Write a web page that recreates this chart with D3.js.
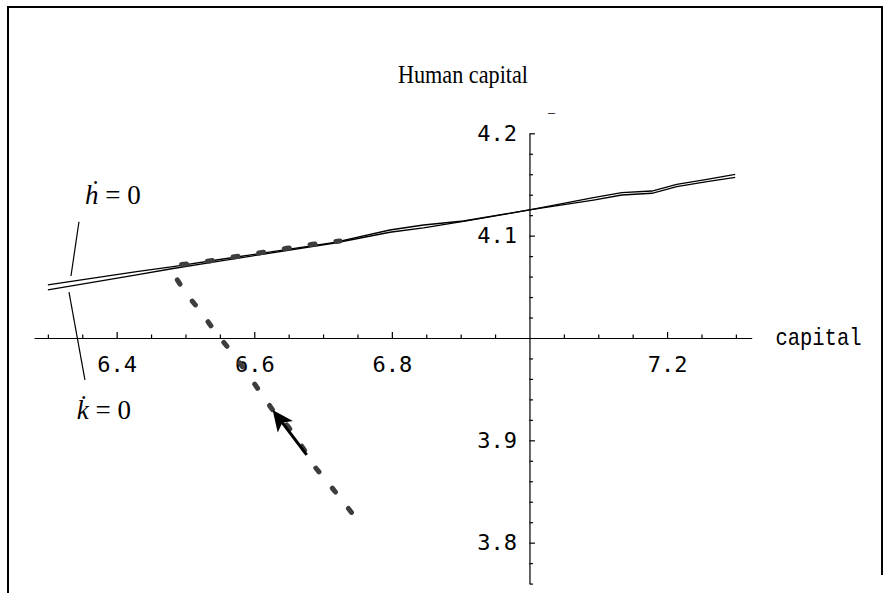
<!DOCTYPE html>
<html>
<head>
<meta charset="utf-8">
<script src="https://cdn.jsdelivr.net/npm/d3@7"></script>
<style>
  html, body { margin: 0; padding: 0; background: #ffffff; }
  svg { display: block; }
</style>
</head>
<body>
<svg id="chart" width="891" height="593"></svg>
<script>
// ---------------- data ----------------
const title = "Human capital";
const xAxisLabel = "capital";

const xMajorTicks = [6.4, 6.6, 6.8, 7.2];
const xMinorTicks = [6.3, 6.35, 6.45, 6.5, 6.55, 6.65, 6.7, 6.75, 6.85, 6.9, 6.95, 7.05, 7.1, 7.15, 7.25, 7.3];
const yMajorTicks = [3.8, 3.9, 4.1, 4.2];
const yMinorTicks = [3.76, 3.78, 3.82, 3.84, 3.86, 3.88, 3.92, 3.94, 3.96, 3.98, 4.02, 4.04, 4.06, 4.08, 4.12, 4.14, 4.16, 4.18];

// nullclines: shared capital grid, human capital values
const curveX  = [6.300, 6.429, 6.482, 6.545, 6.717, 6.797, 6.846, 6.904, 7.000, 7.093, 7.134, 7.178, 7.214, 7.258, 7.299];
const hDotY   = [4.0518, 4.0648, 4.0697, 4.0762, 4.0935, 4.1055, 4.1104, 4.1143, 4.1251, 4.1371, 4.1420, 4.1436, 4.1502, 4.1550, 4.1599];
const kDotY   = [4.0469, 4.0616, 4.0679, 4.0747, 4.0928, 4.1033, 4.1075, 4.1140, 4.1251, 4.1348, 4.1397, 4.1414, 4.1478, 4.1527, 4.1570];

// transition path (dashed)
const pathX = [6.7413, 6.7366, 6.7125, 6.6897, 6.6712, 6.6494, 6.6267, 6.6058, 6.5865, 6.5647, 6.5429, 6.5235, 6.5007, 6.4870, 6.4840, 6.4870, 6.5105, 6.5439, 6.5807, 6.6131, 6.6471, 6.6843, 6.7246];
const pathY = [3.8295, 3.8336, 3.8541, 3.8727, 3.8922, 3.9133, 3.9297, 3.9499, 3.9687, 3.9883, 4.0062, 4.0247, 4.0437, 4.0580, 4.0690, 4.0712, 4.0730, 4.0762, 4.0804, 4.0837, 4.0876, 4.0915, 4.0948];

// direction arrow (from, to)
const arrowX = [6.6762, 6.6267];
const arrowY = [3.8857, 3.9297];

// labels with leader lines
const labels = [
  {text: "\u1E23 = 0", x: 6.3539, y: 4.1309, lineX: [6.3452, 6.3336], lineY: [4.1136, 4.0606]},
  {text: "k\u0307 = 0", x: 6.3419, y: 3.9206, lineX: [6.3307, 6.3539], lineY: [4.0449, 3.9590]}
];

// ---------------- layout ----------------
const W = 891, H = 593;
const margin = {top: 133.3, right: 891 - 751.7, bottom: 593 - 583.6, left: 34.1};
const svg = d3.select("#chart");

const x = d3.scaleLinear().domain([6.28, 7.323]).range([margin.left, W - margin.right]);
const y = d3.scaleLinear().domain([3.76, 4.2]).range([H - margin.bottom, margin.top]);

// frame
svg.append("path")
  .attr("d", "M8,593V7H882V575")
  .attr("fill", "none").attr("stroke", "#000").attr("stroke-width", 2);

// title
svg.append("text")
  .attr("x", 463).attr("y", 83)
  .attr("text-anchor", "middle")
  .attr("font-family", "'Liberation Serif', 'Times New Roman', serif")
  .attr("font-size", 25)
  .attr("textLength", 130).attr("lengthAdjust", "spacingAndGlyphs")
  .attr("fill", "#000")
  .text(title);

// small mark above the y axis
svg.append("text")
  .attr("x", x(7.0) + 22).attr("y", y(4.2) - 16)
  .attr("text-anchor", "middle")
  .attr("font-family", "'Liberation Serif', serif")
  .attr("font-size", 14)
  .attr("fill", "#000")
  .text("\u2013");

const y0 = y(4.0), x0 = x(7.0);

// x axis (major with labels)
const xAxisG = svg.append("g").attr("transform", `translate(0,${y0})`)
  .call(d3.axisBottom(x).tickValues(xMajorTicks).tickSizeInner(-6).tickSizeOuter(0).tickPadding(18).tickFormat(d3.format(".1f")));
svg.append("g").attr("transform", `translate(0,${y0})`)
  .call(d3.axisBottom(x).tickValues(xMinorTicks).tickSizeInner(-3.5).tickSizeOuter(0).tickFormat(""))
  .call(g => g.select(".domain").remove());

// y axis
const yAxisG = svg.append("g").attr("transform", `translate(${x0},0)`)
  .call(d3.axisLeft(y).tickValues(yMajorTicks).tickSizeInner(-5.5).tickSizeOuter(0).tickPadding(12.5).tickFormat(d3.format(".1f")));
svg.append("g").attr("transform", `translate(${x0},0)`)
  .call(d3.axisLeft(y).tickValues(yMinorTicks).tickSizeInner(-3.5).tickSizeOuter(0).tickFormat(""))
  .call(g => g.select(".domain").remove());

svg.selectAll(".domain, .tick line").attr("stroke", "#000").attr("stroke-width", 1.2);
[xAxisG, yAxisG].forEach(g => g.selectAll("text")
  .attr("font-family", "'DejaVu Sans Mono', monospace")
  .attr("font-size", 22)
  .attr("fill", "#000"));

// axis label
svg.append("text")
  .attr("x", x(7.0) + 246).attr("y", y0 + 7.5)
  .attr("font-family", "'Liberation Mono', 'Courier New', monospace")
  .attr("font-size", 24)
  .attr("textLength", 86).attr("lengthAdjust", "spacingAndGlyphs")
  .attr("fill", "#000")
  .text(xAxisLabel);

// nullclines
const line = d3.line().x(d => x(d[0])).y(d => y(d[1]));
[hDotY, kDotY].forEach(ys => {
  svg.append("path")
    .datum(curveX.map((v, i) => [v, ys[i]]))
    .attr("d", line)
    .attr("fill", "none").attr("stroke", "#000").attr("stroke-width", 1.3);
});

// dashed transition path
svg.append("path")
  .datum(pathX.map((v, i) => [v, pathY[i]]))
  .attr("d", line)
  .attr("fill", "none")
  .attr("stroke", "#3d3d3d")
  .attr("stroke-width", 5)
  .attr("stroke-linecap", "round")
  .attr("stroke-linejoin", "round")
  .attr("stroke-dasharray", "5 21");

// arrow
{
  const sx = x(arrowX[0]), sy = y(arrowY[0]);
  const tx = x(arrowX[1]), ty = y(arrowY[1]);
  const dx = tx - sx, dy = ty - sy, len = Math.hypot(dx, dy);
  const ux = dx / len, uy = dy / len, nx = -uy, ny = ux;
  const headL = 21, headW = 9.5, notch = 5;
  const bx = tx - ux * headL, by = ty - uy * headL;
  svg.append("line")
    .attr("x1", sx).attr("y1", sy)
    .attr("x2", tx - ux * (headL - notch)).attr("y2", ty - uy * (headL - notch))
    .attr("stroke", "#000").attr("stroke-width", 3);
  svg.append("path")
    .attr("d", `M${tx},${ty}L${bx + nx * headW},${by + ny * headW}L${tx - ux * (headL - notch)},${ty - uy * (headL - notch)}L${bx - nx * headW},${by - ny * headW}Z`)
    .attr("fill", "#000");
}

// labels
labels.forEach(l => {
  svg.append("line")
    .attr("x1", x(l.lineX[0])).attr("y1", y(l.lineY[0]))
    .attr("x2", x(l.lineX[1])).attr("y2", y(l.lineY[1]))
    .attr("stroke", "#000").attr("stroke-width", 1.2);
  const parts = l.text.split(" = ");
  const t = svg.append("text")
    .attr("x", x(l.x)).attr("y", y(l.y))
    .attr("font-family", "'Liberation Serif', 'Times New Roman', serif")
    .attr("font-size", 27)
    .attr("fill", "#000");
  t.append("tspan").attr("font-style", "italic").text(parts[0]);
  t.append("tspan").text(" = " + parts[1]);
});
</script>
</body>
</html>
